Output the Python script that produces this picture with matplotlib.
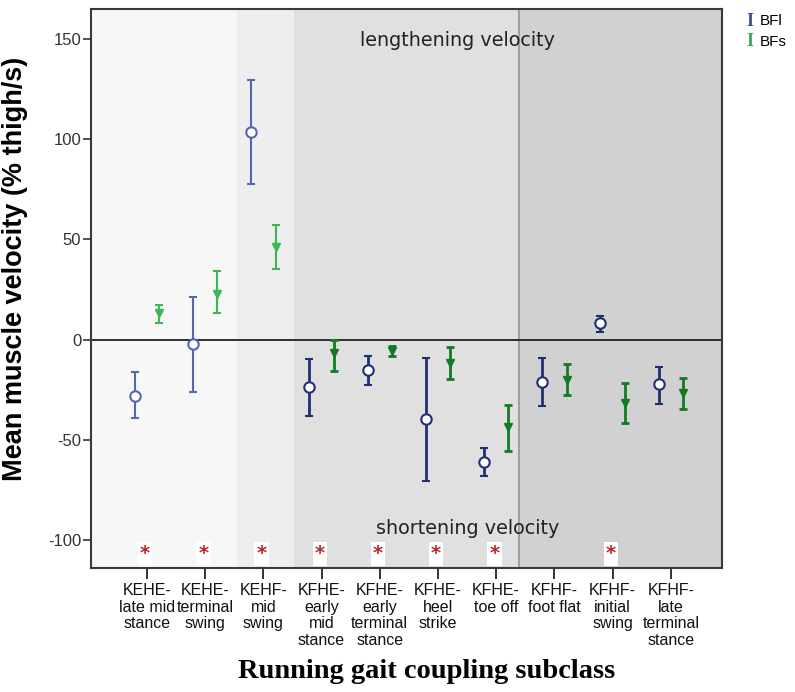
import numpy as np
import matplotlib
matplotlib.use('Agg')
import matplotlib.pyplot as plt

# ~~~~~~~~~~~~~~~~~~~~~~~~~ Data ~~~~~~~~~~~~~~~~~~~~~~~~~
labels = ['KEHE-\nlate mid\nstance', 'KEHE-\nterminal\nswing', 'KEHF-\nmid\nswing',
          'KFHE-\nearly\nmid\nstance', 'KFHE-\nearly\nterminal\nstance',
          'KFHE-\nheel\nstrike', 'KFHE-\ntoe off', 'KFHF-\nfoot flat',
          'KFHF-\ninitial\nswing', 'KFHF-\nlate\nterminal\nstance']

bfl_mean = [-28.0, -2.4, 103.7, -23.9, -15.2, -39.8, -61.0, -21.4, 8.1, -22.2]
bfl_low = [-39.3, -26.0, 77.6, -38.2, -22.7, -70.8, -68.1, -33.2, 3.9, -32.2]
bfl_high = [-16.4, 21.4, 129.5, -9.9, -8.1, -9.4, -54.3, -9.4, 11.7, -13.6]

bfs_mean = [13.1, 23.0, 46.3, -6.9, -5.6, -11.9, -43.8, -20.2, -31.5, -26.5]
bfs_low = [8.1, 13.1, 35.0, -15.6, -8.2, -19.9, -55.6, -27.7, -41.5, -34.8]
bfs_high = [17.2, 34.3, 57.1, -0.2, -3.2, -3.9, -32.7, -12.4, -21.9, -19.4]

significant = [1, 1, 1, 1, 1, 1, 1, 0, 1, 0]   # red asterisk under the category

# shaded background bands (x from, x to, grey)
bands = [(0.04, 2.55, '#f7f7f7'), (2.55, 3.52, '#eeeeee'),
         (3.52, 7.39, '#e0e0e0'), (7.39, 10.88, '#d1d1d1')]

plt.rcParams['font.family'] = ['Liberation Sans', 'DejaVu Sans']
plt.rcParams['axes.unicode_minus'] = False

fig = plt.figure(figsize=(7.95, 6.92), dpi=100)
ax = fig.add_axes([0.1145, 0.1792, 0.7937, 0.8078])

for x0, x1, c in bands:
    ax.axvspan(x0, x1, color=c, lw=0, zorder=0)
ax.axvline(7.39, color='#a0a0a0', lw=1.5, zorder=1)
ax.axhline(0, color='#222222', lw=1.3, zorder=1)

x = np.arange(1, len(labels) + 1)
dx = 0.21
for i in range(len(x)):
    light = i < 3
    cb = '#5668ad' if light else '#1f2f72'
    cg = '#3fb553' if light else '#137a22'
    lw = 1.5 if light else 2.0
    ax.errorbar(x[i] - dx, bfl_mean[i],
                yerr=[[bfl_mean[i] - bfl_low[i]], [bfl_high[i] - bfl_mean[i]]],
                fmt='o', color=cb, mfc='white', mec=cb, mew=1.5, ms=7.5,
                elinewidth=lw, capsize=3, capthick=lw, zorder=3)
    ax.errorbar(x[i] + dx, bfs_mean[i],
                yerr=[[bfs_mean[i] - bfs_low[i]], [bfs_high[i] - bfs_mean[i]]],
                fmt='v', color=cg, mfc=cg, mec=cg, ms=6,
                elinewidth=lw, capsize=3, capthick=lw, zorder=3)

for i in range(len(x)):
    if significant[i]:
        ax.text(x[i] - 0.03, -107, '*', color='#b52a2a', fontsize=14,
                fontweight='bold', ha='center', va='center', family='DejaVu Sans',
                bbox=dict(facecolor='white', edgecolor='none', pad=1.5), zorder=4)

ax.text(6.34, 149.5, 'lengthening velocity', fontsize=13.8, ha='center',
        va='center', color='#222222', family='DejaVu Sans')
ax.text(6.51, -94.2, 'shortening velocity', fontsize=13.8, ha='center',
        va='center', color='#222222', family='DejaVu Sans')

ax.set_xlim(0.04, 10.88)
ax.set_ylim(-114, 165)
ax.set_yticks([-100, -50, 0, 50, 100, 150])
ax.set_xticks(x)
ax.set_xticklabels(labels, fontsize=11.5, linespacing=1.12, color='#111111')
ax.tick_params(axis='y', length=6, width=1.3, color='#444444', labelsize=12,
               labelcolor='#333333', pad=1)
ax.tick_params(axis='x', length=8, width=1.3, color='#222222', pad=3)
for s in ax.spines.values():
    s.set_color('#3a3a3a')
    s.set_linewidth(1.5)

ax.set_ylabel('Mean muscle velocity (% thigh/s)', fontsize=19.5,
              fontweight='bold')
ax.yaxis.set_label_coords(-0.1, 0.535)

fig.text(426.7 / 795, 1 - 672 / 692, 'Running gait coupling subclass',
         fontsize=20.5, fontweight='bold', family='Liberation Serif',
         ha='center', va='center')

# legend drawn as I-beam glyphs beside the series names
fig.text(750 / 795, 1 - 21 / 692, 'I', color='#3a4f9a', fontsize=13,
         fontweight='bold', family='Liberation Serif', ha='center', va='center')
fig.text(750 / 795, 1 - 42 / 692, 'I', color='#3aa655', fontsize=13,
         fontweight='bold', family='Liberation Serif', ha='center', va='center')
fig.text(760 / 795, 1 - 21 / 692, 'BFl', fontsize=11, ha='left', va='center')
fig.text(760 / 795, 1 - 42 / 692, 'BFs', fontsize=11, ha='left', va='center')

fig.savefig('out.png', dpi=100)
